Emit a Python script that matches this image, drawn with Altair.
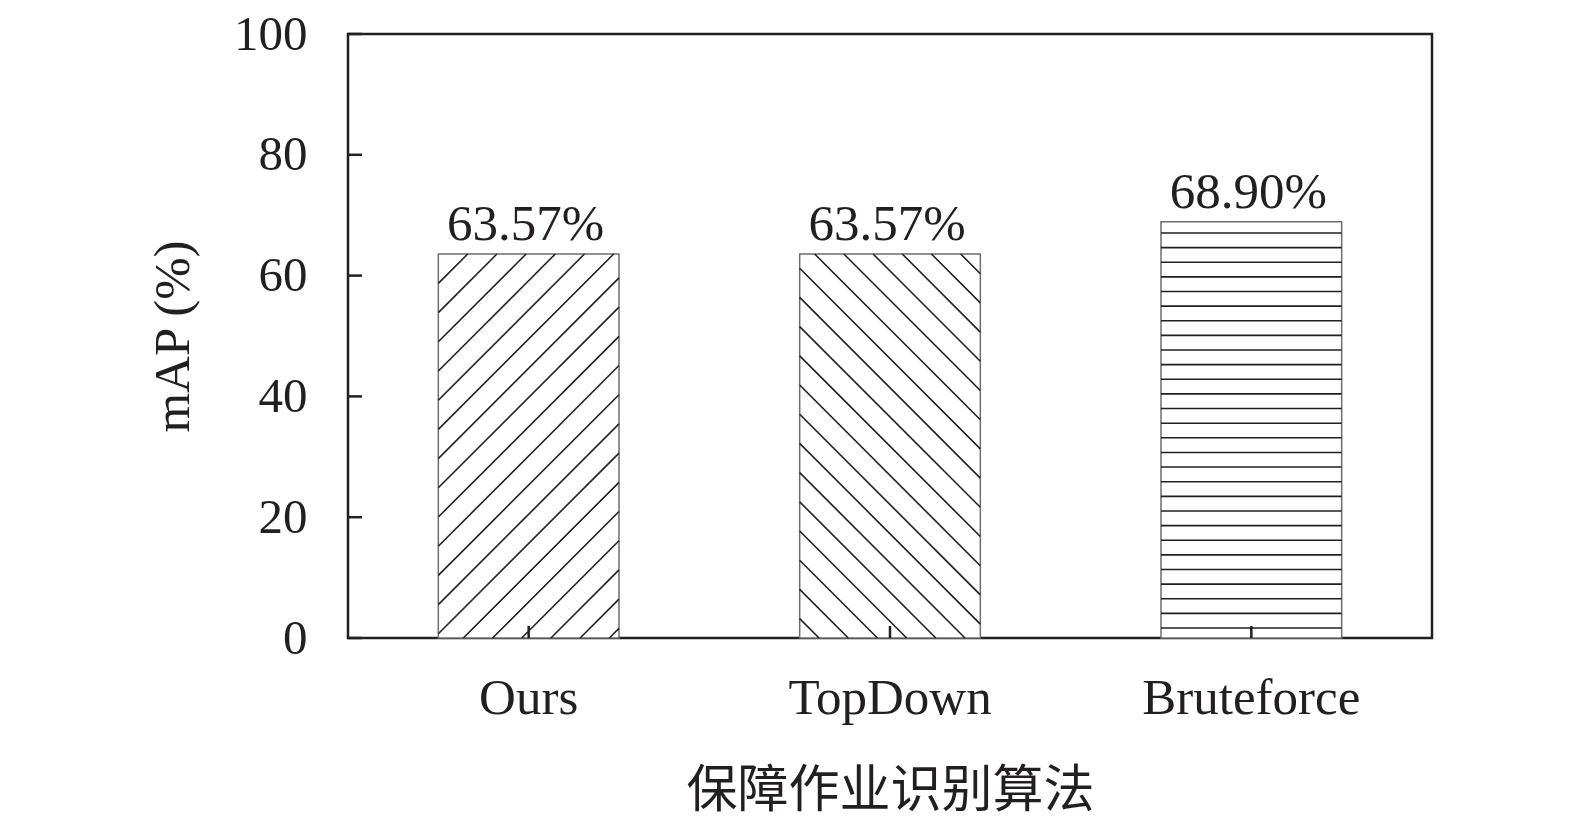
import altair as alt
import pandas as pd
import numpy as np

# ---- data ----
methods = ["Ours", "TopDown", "Bruteforce"]
values = [63.57, 63.57, 68.90]
value_labels = ["63.57%", "63.57%", "68.90%"]
patterns = ["/", "\\", "-"]
y_ticks = [0, 20, 40, 60, 80, 100]

# ---- layout / style constants ----
W, H = 1084, 604
INK = "#231f20"
SERIF = "Liberation Serif"
CJK = "Noto Sans CJK SC"

bars_df = pd.DataFrame({"method": methods, "value": values, "label": value_labels})
ticks_df = pd.DataFrame({"t": y_ticks})

# hatch segments (decoration) computed in pixel space, converted to data units
PX_X = W / 3.0
PX_Y = H / 100.0
BW = PX_X * 0.5
rows = []
for i, (v, p) in enumerate(zip(values, patterns)):
    h = v * PX_Y
    x0 = i + 0.25

    def add(xa, ya, xb, yb):
        rows.append(dict(hx=x0 + xa / PX_X, hx2=x0 + xb / PX_X,
                         hy=ya / PX_Y, hy2=yb / PX_Y))

    if p == "/":
        s = 29.2
        for c in 4.2 + s * np.arange(-20, 30):
            xa = max(0.0, -c)
            xb = min(BW, h - c)
            if xb - xa > 0.5:
                add(xa, xa + c, xb, xb + c)
    elif p == "\\":
        s = 29.2
        for c in (h + 15) + s * np.arange(-30, 10):
            xa = max(0.0, c - h)
            xb = min(BW, c)
            if xb - xa > 0.5:
                add(xa, c - xa, xb, c - xb)
    else:
        s = 14.63
        y = 10.0
        while y <= h - 8:
            add(0, y, BW, y)
            y += s
hatch_df = pd.DataFrame(rows)

xscale = alt.Scale(domain=methods, paddingInner=0.5, paddingOuter=0.25)
yscale = alt.Scale(domain=[0, 100], nice=False)

bars = alt.Chart(bars_df).mark_bar(fill="white", stroke="#6d6e71", strokeWidth=1.5).encode(
    x=alt.X("method:N", scale=xscale, sort=methods,
            axis=alt.Axis(title="保障作业识别算法", labelAngle=0, ticks=False, tickSize=0,
                          domain=False, grid=False, labelFont=SERIF, labelFontSize=51,
                          labelColor=INK, labelPadding=75, labelBaseline="alphabetic",
                          labelLimit=600,
                          titleFont=CJK, titleFontSize=51, titleFontWeight="normal",
                          titleColor=INK, titleY=168, titleBaseline="alphabetic")),
    y=alt.Y("value:Q", scale=yscale,
            axis=alt.Axis(values=y_ticks, title="mAP (%)", ticks=False, tickSize=0,
                          domain=False, grid=False, labelFont=SERIF, labelFontSize=49,
                          labelColor=INK, labelPadding=41, labelLimit=300, titleFont=SERIF,
                          titleFontSize=51, titleFontWeight="normal", titleColor=INK,
                          titleAngle=-90, titleX=-160, titleY=302,
                          titleBaseline="alphabetic", titleAlign="center")),
)

hatch = alt.Chart(hatch_df).mark_rule(color=INK, strokeWidth=1.6).encode(
    x=alt.X("hx:Q", scale=alt.Scale(domain=[0, 3], nice=False, zero=False), axis=None),
    x2="hx2:Q",
    y=alt.Y("hy:Q", scale=yscale),
    y2="hy2:Q",
)

xticks = alt.Chart(bars_df).mark_rule(color=INK, strokeWidth=2.5).encode(
    x=alt.X("method:N", scale=xscale, sort=methods, axis=None),
    y=alt.value(H - 12),
    y2=alt.value(H),
)

text = alt.Chart(bars_df).mark_text(font=SERIF, fontSize=51, color=INK, dy=-14, dx=-3,
                                    baseline="alphabetic", align="center").encode(
    x=alt.X("method:N", scale=xscale, sort=methods, axis=None),
    y=alt.Y("value:Q", scale=yscale),
    text="label:N",
)

yt = alt.Chart(ticks_df).mark_rule(color=INK, strokeWidth=2.5).encode(
    y=alt.Y("t:Q", scale=yscale),
    x=alt.value(0),
    x2=alt.value(14),
)

overlay = alt.layer(xticks, text, yt)

chart = alt.layer(bars, hatch, overlay).resolve_scale(x="independent").properties(
    width=W, height=H,
    padding={"left": 340, "top": 26, "right": 100, "bottom": 177},
    autosize="none",
    background="white",
).configure_view(stroke=INK, strokeWidth=2.5)

chart.save("out.html", embed_options={"renderer": "svg", "actions": False})
